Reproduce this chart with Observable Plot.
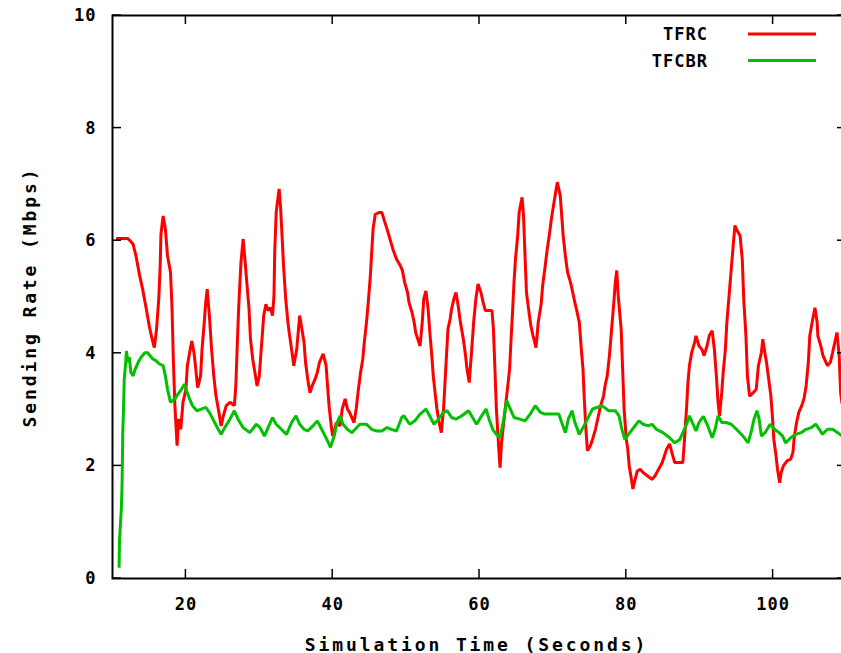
<!DOCTYPE html>
<html>
<head>
<meta charset="utf-8">
<script src="https://cdn.jsdelivr.net/npm/d3@7"></script>
<script src="https://cdn.jsdelivr.net/npm/@observablehq/plot@0.6"></script>
<style>
  html, body { margin: 0; padding: 0; background: #fff; }
  #wrap { width: 841px; height: 653px; overflow: hidden; }
  #wrap svg { max-width: none !important; }
  #wrap svg text { letter-spacing: 1px; }
  #wrap svg .axis-title text { letter-spacing: 2.9px; }
</style>
</head>
<body>
<div id="wrap"></div>
<script>
// ---- data ----
const seriesNames = ["TFRC", "TFCBR"];
const seriesColors = ["#ff0000", "#00c000"];

const tfrcTime = [10.5,12.1,12.8,13.2,13.7,14.1,14.6,15.0,15.4,15.7,16.0,16.3,16.5,16.6,16.9,17.2,17.5,17.9,18.1,18.3,18.5,18.8,19.0,19.3,19.6,20.0,20.2,20.5,20.8,21.1,21.3,21.6,22.0,22.2,22.5,22.7,22.9,23.2,23.5,23.8,24.1,24.5,24.8,25.1,25.5,26.0,26.6,26.8,27.0,27.2,27.5,27.8,28.0,28.3,28.6,28.8,29.1,29.4,29.7,30.0,30.2,30.4,30.6,30.9,31.2,31.5,31.8,32.0,32.1,32.3,32.7,32.9,33.1,33.3,33.6,33.9,34.1,34.4,34.7,35.1,35.3,35.5,35.8,36.1,36.3,36.6,36.9,37.2,37.6,37.9,38.2,38.7,39.1,39.3,39.5,39.8,40.0,40.3,40.5,41.0,41.3,41.7,42.0,42.3,42.9,43.2,43.5,43.8,44.1,44.3,44.6,44.8,45.1,45.3,45.5,45.8,46.3,46.7,47.1,47.4,47.8,48.2,48.7,49.2,49.5,49.8,50.2,50.4,50.8,51.1,51.3,51.6,51.9,52.2,52.4,52.7,53.0,53.2,53.5,53.7,54.0,54.2,54.5,54.8,55.1,55.3,55.5,55.7,56.0,56.2,56.5,56.8,57.1,57.4,57.8,58.1,58.3,58.6,58.9,59.2,59.5,59.8,60.2,60.5,60.8,61.2,61.7,61.9,62.1,62.3,62.6,62.8,63.0,63.3,63.6,63.8,64.1,64.3,64.5,64.7,64.9,65.2,65.4,65.8,66.0,66.2,66.4,66.8,67.0,67.3,67.7,68.0,68.4,68.6,68.9,69.2,69.5,69.8,70.0,70.3,70.6,71.0,71.2,71.4,71.7,72.0,72.4,72.7,73.0,73.3,73.6,73.8,74.1,74.3,74.5,74.7,75.1,75.4,75.8,76.2,76.5,76.9,77.1,77.4,77.7,78.0,78.3,78.5,78.7,78.9,79.3,79.5,79.7,80.0,80.2,80.4,80.7,80.9,81.2,81.5,81.9,82.3,82.9,83.5,83.9,84.4,84.9,85.2,85.5,85.9,86.2,86.6,87.1,87.7,87.9,88.2,88.4,88.6,88.9,89.3,89.5,89.9,90.3,90.6,91.0,91.3,91.7,92.0,92.3,92.5,92.7,93.0,93.2,93.5,93.7,94.0,94.3,94.6,94.8,95.1,95.5,95.8,96.0,96.3,96.5,96.8,97.3,97.7,98.0,98.4,98.6,98.8,99.1,99.4,99.7,99.9,100.1,100.4,100.6,100.9,101.1,101.4,101.9,102.4,102.7,102.9,103.2,103.5,103.9,104.2,104.5,104.8,105.0,105.4,105.7,106.0,106.1,106.5,106.8,107.4,107.8,108.1,108.4,108.7,109.0,109.2,109.4];
const tfrcRate = [6.04,6.04,5.94,5.73,5.38,5.14,4.79,4.49,4.25,4.10,4.43,4.96,5.56,6.12,6.44,6.21,5.73,5.44,4.84,3.84,3.07,2.36,2.83,2.65,3.13,3.36,3.78,4.01,4.22,4.01,3.78,3.39,3.60,4.07,4.55,4.90,5.14,4.67,4.07,3.60,3.24,2.95,2.71,2.89,3.07,3.13,3.07,3.42,4.16,4.84,5.61,6.03,5.73,5.26,4.79,4.25,3.90,3.66,3.42,3.60,3.96,4.31,4.67,4.87,4.76,4.81,4.67,5.02,5.79,6.50,6.92,6.59,6.09,5.56,4.96,4.55,4.34,4.07,3.78,4.07,4.37,4.67,4.43,4.19,3.84,3.54,3.30,3.42,3.54,3.66,3.84,3.99,3.78,3.42,3.07,2.71,2.53,2.65,2.77,2.71,3.01,3.19,3.01,2.95,2.77,3.01,3.36,3.66,3.90,4.19,4.55,4.84,5.32,5.76,6.21,6.47,6.50,6.50,6.33,6.21,6.03,5.85,5.67,5.56,5.47,5.26,5.08,4.90,4.73,4.55,4.37,4.25,4.13,4.55,4.96,5.11,4.79,4.43,3.96,3.60,3.24,3.01,2.77,2.59,3.01,3.48,3.96,4.43,4.61,4.79,4.96,5.08,4.84,4.55,4.25,3.96,3.72,3.48,4.00,4.55,4.96,5.23,5.08,4.90,4.76,4.76,4.76,4.43,3.72,3.01,2.36,1.97,2.41,2.77,3.13,3.36,3.72,4.25,4.73,5.26,5.67,6.09,6.50,6.77,6.44,5.73,5.08,4.67,4.49,4.31,4.10,4.55,4.87,5.20,5.50,5.82,6.09,6.39,6.56,6.80,7.04,6.80,6.44,6.09,5.73,5.44,5.26,5.08,4.90,4.73,4.55,4.19,3.72,3.13,2.65,2.27,2.36,2.47,2.65,2.89,3.07,3.24,3.42,3.60,3.96,4.43,4.90,5.26,5.47,5.02,4.43,3.72,3.01,2.47,2.30,2.00,1.76,1.59,1.76,1.91,1.94,1.88,1.82,1.76,1.82,1.94,2.06,2.18,2.30,2.39,2.24,2.06,2.06,2.06,2.41,3.01,3.48,3.78,4.01,4.19,4.31,4.13,4.07,3.96,4.13,4.31,4.40,4.07,3.54,3.13,2.89,3.30,3.66,4.07,4.55,5.02,5.50,5.97,6.27,6.18,6.09,5.67,4.96,4.31,3.60,3.24,3.30,3.36,3.78,4.01,4.25,4.07,3.84,3.54,3.24,2.89,2.47,2.18,1.94,1.70,1.88,2.00,2.09,2.12,2.24,2.53,2.77,2.95,3.07,3.19,3.42,3.84,4.31,4.61,4.81,4.55,4.31,4.13,3.96,3.78,3.84,4.01,4.19,4.37,3.96,3.30,3.10];

const tfcbrTime = [10.9,10.95,11.2,11.3,11.4,11.5,11.6,11.8,11.9,12.1,12.3,12.5,12.8,13.1,13.5,13.9,14.4,14.8,15.1,15.5,15.9,16.4,16.9,17.2,17.5,17.9,18.5,18.9,19.4,19.8,20.1,20.5,20.9,21.5,22.1,22.7,23.2,23.8,24.4,24.8,25.3,26.0,26.6,27.1,27.8,28.7,29.6,30.1,30.7,31.3,31.8,32.3,33.0,33.7,34.4,35.0,35.5,36.1,36.6,37.3,37.9,38.5,39.2,39.7,40.2,40.6,41.0,41.4,42.0,42.6,43.7,44.6,45.3,46.0,46.7,47.4,48.0,48.7,49.4,49.7,50.5,51.2,51.9,52.7,53.2,53.8,54.4,55.1,55.6,56.2,56.8,57.6,58.5,59.1,59.6,60.3,60.9,61.3,61.8,62.3,62.8,63.3,63.7,64.2,64.7,65.5,66.2,66.9,67.6,68.3,68.9,69.8,70.8,71.2,71.7,72.1,72.6,73.0,73.6,74.1,74.7,75.4,76.7,77.6,78.5,79.0,79.4,79.8,80.3,81.0,81.7,82.3,83.0,83.5,84.1,85.0,85.9,86.6,87.3,87.9,88.3,88.6,89.1,89.5,89.9,90.5,91.1,91.7,92.1,92.5,93.0,93.6,94.3,95.0,95.9,96.6,97.1,97.4,97.8,98.1,98.4,98.9,99.6,100.2,100.8,101.3,101.7,102.4,103.1,103.8,104.5,105.2,105.8,106.3,106.7,107.4,108.1,108.8,109.4];
const tfcbrRate = [0.19,0.67,1.23,1.64,2.59,3.01,3.54,3.84,4.04,3.84,3.93,3.66,3.60,3.72,3.84,3.93,4.01,4.01,3.96,3.90,3.87,3.81,3.78,3.60,3.36,3.13,3.19,3.27,3.36,3.45,3.33,3.19,3.07,2.98,3.01,3.04,2.95,2.80,2.65,2.56,2.68,2.83,2.98,2.83,2.68,2.59,2.74,2.68,2.53,2.71,2.86,2.74,2.65,2.56,2.77,2.89,2.74,2.65,2.62,2.71,2.80,2.65,2.47,2.33,2.53,2.77,2.89,2.74,2.65,2.59,2.74,2.74,2.65,2.62,2.62,2.68,2.65,2.62,2.86,2.89,2.74,2.80,2.92,3.01,2.89,2.74,2.83,2.95,2.98,2.86,2.83,2.89,2.98,2.85,2.74,2.89,3.01,2.83,2.65,2.56,2.50,2.83,3.16,3.01,2.86,2.83,2.80,2.92,3.07,2.95,2.92,2.92,2.92,2.77,2.59,2.83,2.98,2.77,2.56,2.68,2.83,3.01,3.07,2.98,2.98,2.89,2.65,2.47,2.56,2.68,2.80,2.74,2.71,2.74,2.65,2.59,2.50,2.41,2.47,2.65,2.77,2.89,2.74,2.62,2.77,2.88,2.71,2.50,2.65,2.89,2.77,2.77,2.74,2.65,2.53,2.41,2.65,2.83,2.98,2.83,2.53,2.59,2.74,2.65,2.59,2.53,2.41,2.50,2.56,2.59,2.65,2.68,2.74,2.65,2.56,2.65,2.65,2.59,2.53];

const xTicks = [20, 40, 60, 80, 100];
const yTicks = [0, 2, 4, 6, 8, 10];
const xLabel = "Simulation Time (Seconds)";
const yLabel = "Sending Rate (Mbps)";

// ---- build table ----
const rows = [];
tfrcTime.forEach((t, i) => rows.push({series: seriesNames[0], time: t, rate: tfrcRate[i]}));
tfcbrTime.forEach((t, i) => rows.push({series: seriesNames[1], time: t, rate: tfcbrRate[i]}));

const W = 846, H = 653, mL = 112, mR = 0, mT = 15, mB = 75;
const tickLen = 9;

// gnuplot-style inward ticks on all four sides, placed with the plot's own scales
function tickMark(index, scales, values, dims) {
  const g = d3.create("svg:g").attr("stroke", "#000").attr("stroke-width", 1.5);
  const left = dims.marginLeft, right = dims.width - dims.marginRight;
  const top = dims.marginTop, bottom = dims.height - dims.marginBottom;
  xTicks.forEach(t => {
    const px = scales.x(t);
    g.append("line").attr("x1", px).attr("x2", px).attr("y1", bottom).attr("y2", bottom - tickLen);
    g.append("line").attr("x1", px).attr("x2", px).attr("y1", top).attr("y2", top + tickLen);
  });
  yTicks.forEach(t => {
    const py = scales.y(t);
    g.append("line").attr("y1", py).attr("y2", py).attr("x1", left).attr("x2", left + tickLen);
    g.append("line").attr("y1", py).attr("y2", py).attr("x1", right).attr("x2", right - tickLen);
  });
  return g.node();
}

function legendMark(index, scales, values, dims) {
  const g = d3.create("svg:g");
  const right = dims.width - dims.marginRight;
  seriesNames.forEach((name, i) => {
    const y = dims.marginTop + 19 + i * 26.5;
    g.append("text")
      .attr("x", right - 138).attr("y", y)
      .attr("text-anchor", "end").attr("dominant-baseline", "central")
      .attr("font-size", 17).attr("font-weight", "bold")
      .text(name);
    g.append("line")
      .attr("x1", right - 98).attr("x2", right - 30)
      .attr("y1", y).attr("y2", y)
      .attr("stroke", seriesColors[i]).attr("stroke-width", 3);
  });
  return g.node();
}

const chart = Plot.plot({
  width: W, height: H,
  marginLeft: mL, marginRight: mR, marginTop: mT, marginBottom: mB,
  style: {fontFamily: "'DejaVu Sans Mono', monospace", fontWeight: "bold", fontSize: "17px", background: "#fff", color: "#000"},
  x: {domain: [10, 110]},
  y: {domain: [0, 10]},
  color: {domain: seriesNames, range: seriesColors},
  marks: [
    Plot.axisX(xTicks, {tickSize: 0, tickPadding: 19, label: null, fontSize: 17, tickFormat: d => String(d)}),
    Plot.axisY(yTicks, {tickSize: 0, tickPadding: 16, label: null, fontSize: 17, tickFormat: d => String(d)}),
    Plot.line(rows, {x: "time", y: "rate", z: "series", stroke: "series", strokeWidth: 3, strokeLinejoin: "miter", strokeLinecap: "butt"}),
    tickMark,
    Plot.frame({stroke: "#000", strokeWidth: 2}),
    Plot.text([xLabel], {frameAnchor: "bottom", textAnchor: "middle", dy: 72, dx: -3, fontSize: 18, fontWeight: "bold", className: "axis-title"}),
    Plot.text([yLabel], {frameAnchor: "left", textAnchor: "middle", dx: -82, rotate: -90, fontSize: 18, fontWeight: "bold", className: "axis-title"}),
    legendMark
  ]
});
document.getElementById("wrap").appendChild(chart);
</script>
</body>
</html>
